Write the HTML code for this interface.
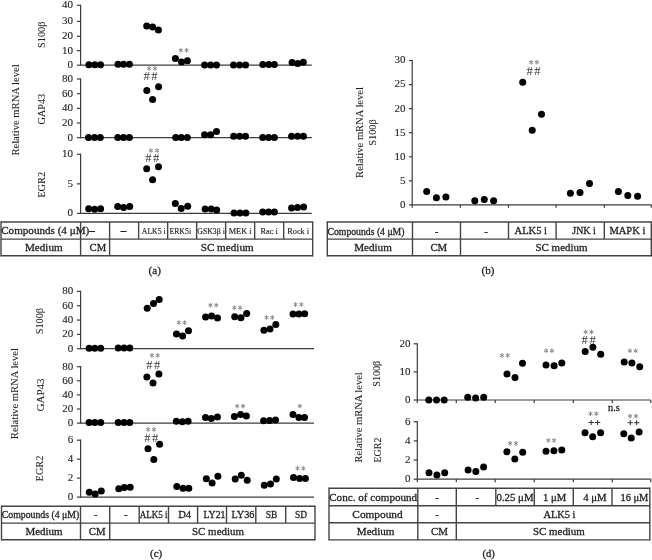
<!DOCTYPE html>
<html><head><meta charset="utf-8"><style>
html,body{margin:0;padding:0;background:#fff;width:652px;height:560px;overflow:hidden}
svg{display:block;font-family:"Liberation Serif", serif;filter:grayscale(1)}
text{stroke:#231f20;stroke-width:0.3px}
text.tk{stroke-width:0.12px}
text.rt{stroke-width:0.08px}
text.sm{stroke-width:0.15px}
text.hs{stroke-width:0px}
</style></head><body>
<svg width="652" height="560" viewBox="0 0 652 560" fill="#000">
<text class="rt" transform="translate(19.40,110.00) rotate(-90)" font-size="10.5" text-anchor="middle" fill="#231f20" textLength="91.20" lengthAdjust="spacingAndGlyphs">Relative mRNA level</text>
<text class="rt" transform="translate(44.80,34.75) rotate(-90)" font-size="10.5" text-anchor="middle" fill="#231f20" textLength="26.30" lengthAdjust="spacingAndGlyphs">S100β</text>
<text class="rt" transform="translate(45.30,109.10) rotate(-90)" font-size="10.5" text-anchor="middle" fill="#231f20" textLength="30.60" lengthAdjust="spacingAndGlyphs">GAP43</text>
<text class="rt" transform="translate(44.90,184.75) rotate(-90)" font-size="10.5" text-anchor="middle" fill="#231f20" textLength="26.10" lengthAdjust="spacingAndGlyphs">EGR2</text>
<line x1="80.60" y1="4.70" x2="80.60" y2="65.80" stroke="#3c3c3c" stroke-width="1.2"/>
<line x1="76.90" y1="65.20" x2="80.60" y2="65.20" stroke="#3c3c3c" stroke-width="1.2"/>
<text x="72.90" y="68.10" font-size="11" text-anchor="end" fill="#231f20" class="tk">0</text>
<line x1="76.90" y1="50.70" x2="80.60" y2="50.70" stroke="#3c3c3c" stroke-width="1.2"/>
<text x="72.90" y="53.60" font-size="11" text-anchor="end" fill="#231f20" class="tk">10</text>
<line x1="76.90" y1="36.30" x2="80.60" y2="36.30" stroke="#3c3c3c" stroke-width="1.2"/>
<text x="72.90" y="39.20" font-size="11" text-anchor="end" fill="#231f20" class="tk">20</text>
<line x1="76.90" y1="21.40" x2="80.60" y2="21.40" stroke="#3c3c3c" stroke-width="1.2"/>
<text x="72.90" y="24.30" font-size="11" text-anchor="end" fill="#231f20" class="tk">30</text>
<line x1="76.90" y1="5.30" x2="80.60" y2="5.30" stroke="#3c3c3c" stroke-width="1.2"/>
<text x="72.90" y="8.20" font-size="11" text-anchor="end" fill="#231f20" class="tk">40</text>
<line x1="80.60" y1="65.20" x2="311.80" y2="65.20" stroke="#3c3c3c" stroke-width="1.2"/>
<line x1="80.60" y1="78.40" x2="80.60" y2="138.30" stroke="#3c3c3c" stroke-width="1.2"/>
<line x1="76.90" y1="137.70" x2="80.60" y2="137.70" stroke="#3c3c3c" stroke-width="1.2"/>
<text x="72.90" y="140.60" font-size="11" text-anchor="end" fill="#231f20" class="tk">0</text>
<line x1="76.90" y1="123.02" x2="80.60" y2="123.02" stroke="#3c3c3c" stroke-width="1.2"/>
<text x="72.90" y="125.92" font-size="11" text-anchor="end" fill="#231f20" class="tk">20</text>
<line x1="76.90" y1="108.35" x2="80.60" y2="108.35" stroke="#3c3c3c" stroke-width="1.2"/>
<text x="72.90" y="111.25" font-size="11" text-anchor="end" fill="#231f20" class="tk">40</text>
<line x1="76.90" y1="93.67" x2="80.60" y2="93.67" stroke="#3c3c3c" stroke-width="1.2"/>
<text x="72.90" y="96.58" font-size="11" text-anchor="end" fill="#231f20" class="tk">60</text>
<line x1="76.90" y1="79.00" x2="80.60" y2="79.00" stroke="#3c3c3c" stroke-width="1.2"/>
<text x="72.90" y="81.90" font-size="11" text-anchor="end" fill="#231f20" class="tk">80</text>
<line x1="80.60" y1="137.70" x2="311.80" y2="137.70" stroke="#3c3c3c" stroke-width="1.2"/>
<line x1="80.60" y1="153.70" x2="80.60" y2="214.00" stroke="#3c3c3c" stroke-width="1.2"/>
<line x1="76.90" y1="213.40" x2="80.60" y2="213.40" stroke="#3c3c3c" stroke-width="1.2"/>
<text x="72.90" y="216.30" font-size="11" text-anchor="end" fill="#231f20" class="tk">0</text>
<line x1="76.90" y1="183.85" x2="80.60" y2="183.85" stroke="#3c3c3c" stroke-width="1.2"/>
<text x="72.90" y="186.75" font-size="11" text-anchor="end" fill="#231f20" class="tk">5</text>
<line x1="76.90" y1="154.30" x2="80.60" y2="154.30" stroke="#3c3c3c" stroke-width="1.2"/>
<text x="72.90" y="157.20" font-size="11" text-anchor="end" fill="#231f20" class="tk">10</text>
<line x1="80.60" y1="213.40" x2="311.80" y2="213.40" stroke="#3c3c3c" stroke-width="1.2"/>
<circle cx="88.90" cy="64.80" r="3.5"/>
<circle cx="94.80" cy="64.80" r="3.5"/>
<circle cx="100.50" cy="64.80" r="3.5"/>
<circle cx="118.00" cy="64.30" r="3.5"/>
<circle cx="123.50" cy="64.30" r="3.5"/>
<circle cx="129.40" cy="64.30" r="3.5"/>
<circle cx="146.70" cy="26.05" r="3.5"/>
<circle cx="152.65" cy="27.00" r="3.5"/>
<circle cx="158.40" cy="30.00" r="3.5"/>
<circle cx="175.40" cy="58.50" r="3.5"/>
<circle cx="181.50" cy="62.00" r="3.5"/>
<circle cx="187.40" cy="60.70" r="3.5"/>
<circle cx="204.60" cy="65.00" r="3.5"/>
<circle cx="210.60" cy="65.00" r="3.5"/>
<circle cx="216.50" cy="65.00" r="3.5"/>
<circle cx="233.50" cy="65.00" r="3.5"/>
<circle cx="239.60" cy="65.00" r="3.5"/>
<circle cx="245.60" cy="65.00" r="3.5"/>
<circle cx="262.80" cy="64.40" r="3.5"/>
<circle cx="268.80" cy="64.40" r="3.5"/>
<circle cx="274.40" cy="64.40" r="3.5"/>
<circle cx="292.10" cy="62.40" r="3.5"/>
<circle cx="297.70" cy="63.40" r="3.5"/>
<circle cx="303.30" cy="62.20" r="3.5"/>
<circle cx="88.50" cy="137.50" r="3.5"/>
<circle cx="94.50" cy="137.50" r="3.5"/>
<circle cx="100.30" cy="137.50" r="3.5"/>
<circle cx="117.80" cy="137.50" r="3.5"/>
<circle cx="123.60" cy="137.50" r="3.5"/>
<circle cx="129.40" cy="137.50" r="3.5"/>
<circle cx="146.80" cy="90.40" r="3.5"/>
<circle cx="152.60" cy="99.60" r="3.5"/>
<circle cx="158.60" cy="86.70" r="3.5"/>
<circle cx="175.70" cy="137.50" r="3.5"/>
<circle cx="181.30" cy="137.50" r="3.5"/>
<circle cx="187.30" cy="137.50" r="3.5"/>
<circle cx="204.60" cy="134.70" r="3.5"/>
<circle cx="210.60" cy="134.70" r="3.5"/>
<circle cx="216.50" cy="131.40" r="3.5"/>
<circle cx="233.70" cy="136.20" r="3.5"/>
<circle cx="239.60" cy="136.20" r="3.5"/>
<circle cx="245.50" cy="136.20" r="3.5"/>
<circle cx="262.70" cy="137.50" r="3.5"/>
<circle cx="268.60" cy="137.50" r="3.5"/>
<circle cx="274.40" cy="137.50" r="3.5"/>
<circle cx="291.60" cy="136.20" r="3.5"/>
<circle cx="297.60" cy="136.20" r="3.5"/>
<circle cx="303.40" cy="136.20" r="3.5"/>
<circle cx="88.70" cy="208.80" r="3.5"/>
<circle cx="94.70" cy="209.30" r="3.5"/>
<circle cx="100.60" cy="208.80" r="3.5"/>
<circle cx="117.70" cy="206.60" r="3.5"/>
<circle cx="123.60" cy="207.50" r="3.5"/>
<circle cx="129.70" cy="206.60" r="3.5"/>
<circle cx="146.70" cy="168.70" r="3.5"/>
<circle cx="152.60" cy="179.70" r="3.5"/>
<circle cx="158.50" cy="166.80" r="3.5"/>
<circle cx="175.30" cy="203.40" r="3.5"/>
<circle cx="181.20" cy="208.40" r="3.5"/>
<circle cx="187.70" cy="206.20" r="3.5"/>
<circle cx="205.10" cy="209.00" r="3.5"/>
<circle cx="211.20" cy="209.00" r="3.5"/>
<circle cx="216.70" cy="209.90" r="3.5"/>
<circle cx="234.00" cy="213.00" r="3.5"/>
<circle cx="240.00" cy="213.00" r="3.5"/>
<circle cx="245.90" cy="213.00" r="3.5"/>
<circle cx="262.70" cy="212.10" r="3.5"/>
<circle cx="268.60" cy="212.10" r="3.5"/>
<circle cx="274.40" cy="212.10" r="3.5"/>
<circle cx="291.60" cy="208.00" r="3.5"/>
<circle cx="297.50" cy="207.50" r="3.5"/>
<circle cx="303.60" cy="206.90" r="3.5"/>
<line x1="180.80" y1="48.00" x2="180.80" y2="52.60" stroke="#8a8a8a" stroke-width="1.0"/>
<line x1="178.81" y1="49.15" x2="182.79" y2="51.45" stroke="#8a8a8a" stroke-width="1.0"/>
<line x1="178.81" y1="51.45" x2="182.79" y2="49.15" stroke="#8a8a8a" stroke-width="1.0"/>
<line x1="186.60" y1="48.00" x2="186.60" y2="52.60" stroke="#8a8a8a" stroke-width="1.0"/>
<line x1="184.61" y1="49.15" x2="188.59" y2="51.45" stroke="#8a8a8a" stroke-width="1.0"/>
<line x1="184.61" y1="51.45" x2="188.59" y2="49.15" stroke="#8a8a8a" stroke-width="1.0"/>
<line x1="149.10" y1="66.20" x2="149.10" y2="70.80" stroke="#8a8a8a" stroke-width="1.0"/>
<line x1="147.11" y1="67.35" x2="151.09" y2="69.65" stroke="#8a8a8a" stroke-width="1.0"/>
<line x1="147.11" y1="69.65" x2="151.09" y2="67.35" stroke="#8a8a8a" stroke-width="1.0"/>
<line x1="155.10" y1="66.20" x2="155.10" y2="70.80" stroke="#8a8a8a" stroke-width="1.0"/>
<line x1="153.11" y1="67.35" x2="157.09" y2="69.65" stroke="#8a8a8a" stroke-width="1.0"/>
<line x1="153.11" y1="69.65" x2="157.09" y2="67.35" stroke="#8a8a8a" stroke-width="1.0"/>
<text x="146.55" y="79.90" font-size="12.5" text-anchor="middle" fill="#333" class="hs">#</text>
<text x="154.45" y="79.90" font-size="12.5" text-anchor="middle" fill="#333" class="hs">#</text>
<line x1="150.90" y1="148.30" x2="150.90" y2="152.90" stroke="#8a8a8a" stroke-width="1.0"/>
<line x1="148.91" y1="149.45" x2="152.89" y2="151.75" stroke="#8a8a8a" stroke-width="1.0"/>
<line x1="148.91" y1="151.75" x2="152.89" y2="149.45" stroke="#8a8a8a" stroke-width="1.0"/>
<line x1="157.10" y1="148.30" x2="157.10" y2="152.90" stroke="#8a8a8a" stroke-width="1.0"/>
<line x1="155.11" y1="149.45" x2="159.09" y2="151.75" stroke="#8a8a8a" stroke-width="1.0"/>
<line x1="155.11" y1="151.75" x2="159.09" y2="149.45" stroke="#8a8a8a" stroke-width="1.0"/>
<text x="148.25" y="162.00" font-size="12.5" text-anchor="middle" fill="#333" class="hs">#</text>
<text x="156.15" y="162.00" font-size="12.5" text-anchor="middle" fill="#333" class="hs">#</text>
<line x1="1.00" y1="222.00" x2="312.68" y2="222.00" stroke="#444" stroke-width="1.4"/>
<line x1="1.00" y1="239.10" x2="312.68" y2="239.10" stroke="#444" stroke-width="1.4"/>
<line x1="1.00" y1="255.80" x2="312.68" y2="255.80" stroke="#444" stroke-width="1.4"/>
<line x1="1.00" y1="221.30" x2="1.00" y2="256.50" stroke="#444" stroke-width="1.4"/>
<line x1="312.68" y1="221.30" x2="312.68" y2="256.50" stroke="#444" stroke-width="1.4"/>
<line x1="80.60" y1="222.00" x2="80.60" y2="255.80" stroke="#444" stroke-width="1.4"/>
<line x1="109.61" y1="222.00" x2="109.61" y2="255.80" stroke="#444" stroke-width="1.4"/>
<line x1="138.62" y1="222.00" x2="138.62" y2="239.10" stroke="#444" stroke-width="1.4"/>
<line x1="167.63" y1="222.00" x2="167.63" y2="239.10" stroke="#444" stroke-width="1.4"/>
<line x1="196.64" y1="222.00" x2="196.64" y2="239.10" stroke="#444" stroke-width="1.4"/>
<line x1="225.65" y1="222.00" x2="225.65" y2="239.10" stroke="#444" stroke-width="1.4"/>
<line x1="254.66" y1="222.00" x2="254.66" y2="239.10" stroke="#444" stroke-width="1.4"/>
<line x1="283.67" y1="222.00" x2="283.67" y2="239.10" stroke="#444" stroke-width="1.4"/>
<text x="1.20" y="234.00" font-size="11" text-anchor="start" fill="#231f20" textLength="93.60" lengthAdjust="spacingAndGlyphs">Compounds (4 μM)–</text>
<text x="123.40" y="234.00" font-size="11" text-anchor="middle" fill="#231f20">–</text>
<text x="141.80" y="234.00" font-size="8.3" text-anchor="start" fill="#231f20" textLength="23.90" lengthAdjust="spacingAndGlyphs" class="sm">ALK5 i</text>
<text x="169.40" y="234.00" font-size="8.3" text-anchor="start" fill="#231f20" textLength="21.70" lengthAdjust="spacingAndGlyphs" class="sm">ERK5i</text>
<text x="197.30" y="234.00" font-size="8.3" text-anchor="start" fill="#231f20" textLength="27.50" lengthAdjust="spacingAndGlyphs" class="sm">GSK3β i</text>
<text x="240.16" y="234.00" font-size="8.3" text-anchor="middle" fill="#231f20" class="sm">MEK i</text>
<text x="269.17" y="234.00" font-size="8.3" text-anchor="middle" fill="#231f20" class="sm">Rac i</text>
<text x="298.18" y="234.00" font-size="8.3" text-anchor="middle" fill="#231f20" class="sm">Rock i</text>
<text x="43.80" y="250.60" font-size="11" text-anchor="middle" fill="#231f20" textLength="37.70" lengthAdjust="spacingAndGlyphs">Medium</text>
<text x="97.90" y="250.60" font-size="11" text-anchor="middle" fill="#231f20" textLength="16.60" lengthAdjust="spacingAndGlyphs">CM</text>
<text x="227.20" y="250.60" font-size="11" text-anchor="middle" fill="#231f20" textLength="53.00" lengthAdjust="spacingAndGlyphs">SC medium</text>
<text x="154.75" y="273.80" font-size="11" text-anchor="middle" fill="#231f20" textLength="12.30" lengthAdjust="spacingAndGlyphs">(a)</text>
<text class="rt" transform="translate(363.20,132.50) rotate(-90)" font-size="10.5" text-anchor="middle" fill="#231f20" textLength="90.80" lengthAdjust="spacingAndGlyphs">Relative mRNA level</text>
<text class="rt" transform="translate(375.70,132.50) rotate(-90)" font-size="10.5" text-anchor="middle" fill="#231f20" textLength="26.40" lengthAdjust="spacingAndGlyphs">S100β</text>
<line x1="412.20" y1="59.90" x2="412.20" y2="205.50" stroke="#3c3c3c" stroke-width="1.2"/>
<line x1="408.90" y1="204.90" x2="412.20" y2="204.90" stroke="#3c3c3c" stroke-width="1.2"/>
<text x="405.50" y="207.80" font-size="11" text-anchor="end" fill="#231f20" class="tk">0</text>
<line x1="408.90" y1="180.83" x2="412.20" y2="180.83" stroke="#3c3c3c" stroke-width="1.2"/>
<text x="405.50" y="183.73" font-size="11" text-anchor="end" fill="#231f20" class="tk">5</text>
<line x1="408.90" y1="156.77" x2="412.20" y2="156.77" stroke="#3c3c3c" stroke-width="1.2"/>
<text x="405.50" y="159.67" font-size="11" text-anchor="end" fill="#231f20" class="tk">10</text>
<line x1="408.90" y1="132.70" x2="412.20" y2="132.70" stroke="#3c3c3c" stroke-width="1.2"/>
<text x="405.50" y="135.60" font-size="11" text-anchor="end" fill="#231f20" class="tk">15</text>
<line x1="408.90" y1="108.63" x2="412.20" y2="108.63" stroke="#3c3c3c" stroke-width="1.2"/>
<text x="405.50" y="111.53" font-size="11" text-anchor="end" fill="#231f20" class="tk">20</text>
<line x1="408.90" y1="84.57" x2="412.20" y2="84.57" stroke="#3c3c3c" stroke-width="1.2"/>
<text x="405.50" y="87.47" font-size="11" text-anchor="end" fill="#231f20" class="tk">25</text>
<line x1="408.90" y1="60.50" x2="412.20" y2="60.50" stroke="#3c3c3c" stroke-width="1.2"/>
<text x="405.50" y="63.40" font-size="11" text-anchor="end" fill="#231f20" class="tk">30</text>
<line x1="412.20" y1="204.90" x2="651.60" y2="204.90" stroke="#3c3c3c" stroke-width="1.2"/>
<line x1="412.20" y1="204.90" x2="412.20" y2="207.80" stroke="#3c3c3c" stroke-width="1.2"/>
<line x1="460.30" y1="204.90" x2="460.30" y2="207.80" stroke="#3c3c3c" stroke-width="1.2"/>
<line x1="508.50" y1="204.90" x2="508.50" y2="207.80" stroke="#3c3c3c" stroke-width="1.2"/>
<line x1="556.10" y1="204.90" x2="556.10" y2="207.80" stroke="#3c3c3c" stroke-width="1.2"/>
<line x1="604.30" y1="204.90" x2="604.30" y2="207.80" stroke="#3c3c3c" stroke-width="1.2"/>
<line x1="651.30" y1="204.90" x2="651.30" y2="207.80" stroke="#3c3c3c" stroke-width="1.2"/>
<circle cx="426.70" cy="191.60" r="3.5"/>
<circle cx="436.40" cy="197.70" r="3.5"/>
<circle cx="445.90" cy="197.10" r="3.5"/>
<circle cx="474.80" cy="200.70" r="3.5"/>
<circle cx="484.30" cy="199.40" r="3.5"/>
<circle cx="493.60" cy="200.70" r="3.5"/>
<circle cx="522.70" cy="82.20" r="3.5"/>
<circle cx="532.20" cy="130.30" r="3.5"/>
<circle cx="541.50" cy="114.30" r="3.5"/>
<circle cx="570.40" cy="193.30" r="3.5"/>
<circle cx="580.00" cy="192.60" r="3.5"/>
<circle cx="589.50" cy="183.50" r="3.5"/>
<circle cx="618.40" cy="191.40" r="3.5"/>
<circle cx="627.80" cy="195.60" r="3.5"/>
<circle cx="637.60" cy="196.30" r="3.5"/>
<line x1="531.10" y1="60.00" x2="531.10" y2="64.60" stroke="#8a8a8a" stroke-width="1.0"/>
<line x1="529.11" y1="61.15" x2="533.09" y2="63.45" stroke="#8a8a8a" stroke-width="1.0"/>
<line x1="529.11" y1="63.45" x2="533.09" y2="61.15" stroke="#8a8a8a" stroke-width="1.0"/>
<line x1="536.90" y1="60.00" x2="536.90" y2="64.60" stroke="#8a8a8a" stroke-width="1.0"/>
<line x1="534.91" y1="61.15" x2="538.89" y2="63.45" stroke="#8a8a8a" stroke-width="1.0"/>
<line x1="534.91" y1="63.45" x2="538.89" y2="61.15" stroke="#8a8a8a" stroke-width="1.0"/>
<text x="529.55" y="74.90" font-size="12.5" text-anchor="middle" fill="#333" class="hs">#</text>
<text x="537.45" y="74.90" font-size="12.5" text-anchor="middle" fill="#333" class="hs">#</text>
<line x1="327.30" y1="222.00" x2="651.30" y2="222.00" stroke="#444" stroke-width="1.4"/>
<line x1="327.30" y1="239.10" x2="651.30" y2="239.10" stroke="#444" stroke-width="1.4"/>
<line x1="327.30" y1="255.80" x2="651.30" y2="255.80" stroke="#444" stroke-width="1.4"/>
<line x1="327.30" y1="221.30" x2="327.30" y2="256.50" stroke="#444" stroke-width="1.4"/>
<line x1="651.30" y1="221.30" x2="651.30" y2="256.50" stroke="#444" stroke-width="1.4"/>
<line x1="412.50" y1="222.00" x2="412.50" y2="255.80" stroke="#444" stroke-width="1.4"/>
<line x1="460.50" y1="222.00" x2="460.50" y2="255.80" stroke="#444" stroke-width="1.4"/>
<line x1="508.50" y1="222.00" x2="508.50" y2="239.10" stroke="#444" stroke-width="1.4"/>
<line x1="556.10" y1="222.00" x2="556.10" y2="239.10" stroke="#444" stroke-width="1.4"/>
<line x1="604.30" y1="222.00" x2="604.30" y2="239.10" stroke="#444" stroke-width="1.4"/>
<text x="327.50" y="234.70" font-size="10" text-anchor="start" fill="#231f20" textLength="77.00" lengthAdjust="spacingAndGlyphs">Compounds (4 μM)</text>
<text x="436.70" y="234.70" font-size="11" text-anchor="middle" fill="#231f20">-</text>
<text x="486.00" y="234.70" font-size="11" text-anchor="middle" fill="#231f20">-</text>
<text x="530.80" y="234.00" font-size="10.5" text-anchor="middle" fill="#231f20" textLength="32.40" lengthAdjust="spacingAndGlyphs">ALK5 i</text>
<text x="584.00" y="234.00" font-size="10.5" text-anchor="middle" fill="#231f20" textLength="23.30" lengthAdjust="spacingAndGlyphs">JNK i</text>
<text x="627.40" y="234.00" font-size="10.5" text-anchor="middle" fill="#231f20" textLength="36.00" lengthAdjust="spacingAndGlyphs">MAPK i</text>
<text x="373.00" y="250.70" font-size="11" text-anchor="middle" fill="#231f20" textLength="37.70" lengthAdjust="spacingAndGlyphs">Medium</text>
<text x="438.80" y="250.70" font-size="11" text-anchor="middle" fill="#231f20" textLength="16.80" lengthAdjust="spacingAndGlyphs">CM</text>
<text x="561.50" y="250.70" font-size="11" text-anchor="middle" fill="#231f20" textLength="52.00" lengthAdjust="spacingAndGlyphs">SC medium</text>
<text x="488.00" y="273.50" font-size="11" text-anchor="middle" fill="#231f20" textLength="12.80" lengthAdjust="spacingAndGlyphs">(b)</text>
<text class="rt" transform="translate(18.40,393.60) rotate(-90)" font-size="10.5" text-anchor="middle" fill="#231f20" textLength="91.10" lengthAdjust="spacingAndGlyphs">Relative mRNA level</text>
<text class="rt" transform="translate(43.40,321.10) rotate(-90)" font-size="10.5" text-anchor="middle" fill="#231f20" textLength="26.40" lengthAdjust="spacingAndGlyphs">S100β</text>
<text class="rt" transform="translate(43.80,395.00) rotate(-90)" font-size="10.5" text-anchor="middle" fill="#231f20" textLength="33.00" lengthAdjust="spacingAndGlyphs">GAP43</text>
<text class="rt" transform="translate(43.40,468.50) rotate(-90)" font-size="10.5" text-anchor="middle" fill="#231f20" textLength="25.90" lengthAdjust="spacingAndGlyphs">EGR2</text>
<line x1="80.60" y1="290.80" x2="80.60" y2="349.30" stroke="#3c3c3c" stroke-width="1.2"/>
<line x1="76.90" y1="348.70" x2="80.60" y2="348.70" stroke="#3c3c3c" stroke-width="1.2"/>
<text x="73.30" y="351.60" font-size="11" text-anchor="end" fill="#231f20" class="tk">0</text>
<line x1="76.90" y1="334.38" x2="80.60" y2="334.38" stroke="#3c3c3c" stroke-width="1.2"/>
<text x="73.30" y="337.27" font-size="11" text-anchor="end" fill="#231f20" class="tk">20</text>
<line x1="76.90" y1="320.05" x2="80.60" y2="320.05" stroke="#3c3c3c" stroke-width="1.2"/>
<text x="73.30" y="322.95" font-size="11" text-anchor="end" fill="#231f20" class="tk">40</text>
<line x1="76.90" y1="305.72" x2="80.60" y2="305.72" stroke="#3c3c3c" stroke-width="1.2"/>
<text x="73.30" y="308.62" font-size="11" text-anchor="end" fill="#231f20" class="tk">60</text>
<line x1="76.90" y1="291.40" x2="80.60" y2="291.40" stroke="#3c3c3c" stroke-width="1.2"/>
<text x="73.30" y="294.30" font-size="11" text-anchor="end" fill="#231f20" class="tk">80</text>
<line x1="80.60" y1="348.70" x2="314.00" y2="348.70" stroke="#3c3c3c" stroke-width="1.2"/>
<line x1="80.60" y1="366.10" x2="80.60" y2="423.70" stroke="#3c3c3c" stroke-width="1.2"/>
<line x1="76.90" y1="423.10" x2="80.60" y2="423.10" stroke="#3c3c3c" stroke-width="1.2"/>
<text x="73.30" y="426.00" font-size="11" text-anchor="end" fill="#231f20" class="tk">0</text>
<line x1="76.90" y1="409.00" x2="80.60" y2="409.00" stroke="#3c3c3c" stroke-width="1.2"/>
<text x="73.30" y="411.90" font-size="11" text-anchor="end" fill="#231f20" class="tk">20</text>
<line x1="76.90" y1="394.90" x2="80.60" y2="394.90" stroke="#3c3c3c" stroke-width="1.2"/>
<text x="73.30" y="397.80" font-size="11" text-anchor="end" fill="#231f20" class="tk">40</text>
<line x1="76.90" y1="380.80" x2="80.60" y2="380.80" stroke="#3c3c3c" stroke-width="1.2"/>
<text x="73.30" y="383.70" font-size="11" text-anchor="end" fill="#231f20" class="tk">60</text>
<line x1="76.90" y1="366.70" x2="80.60" y2="366.70" stroke="#3c3c3c" stroke-width="1.2"/>
<text x="73.30" y="369.60" font-size="11" text-anchor="end" fill="#231f20" class="tk">80</text>
<line x1="80.60" y1="423.10" x2="314.00" y2="423.10" stroke="#3c3c3c" stroke-width="1.2"/>
<line x1="80.60" y1="439.60" x2="80.60" y2="497.70" stroke="#3c3c3c" stroke-width="1.2"/>
<line x1="76.90" y1="497.10" x2="80.60" y2="497.10" stroke="#3c3c3c" stroke-width="1.2"/>
<text x="73.30" y="500.00" font-size="11" text-anchor="end" fill="#231f20" class="tk">0</text>
<line x1="76.90" y1="478.13" x2="80.60" y2="478.13" stroke="#3c3c3c" stroke-width="1.2"/>
<text x="73.30" y="481.03" font-size="11" text-anchor="end" fill="#231f20" class="tk">2</text>
<line x1="76.90" y1="459.17" x2="80.60" y2="459.17" stroke="#3c3c3c" stroke-width="1.2"/>
<text x="73.30" y="462.07" font-size="11" text-anchor="end" fill="#231f20" class="tk">4</text>
<line x1="76.90" y1="440.20" x2="80.60" y2="440.20" stroke="#3c3c3c" stroke-width="1.2"/>
<text x="73.30" y="443.10" font-size="11" text-anchor="end" fill="#231f20" class="tk">6</text>
<line x1="80.60" y1="497.10" x2="314.00" y2="497.10" stroke="#3c3c3c" stroke-width="1.2"/>
<circle cx="89.10" cy="348.30" r="3.5"/>
<circle cx="94.80" cy="348.30" r="3.5"/>
<circle cx="100.70" cy="348.30" r="3.5"/>
<circle cx="118.20" cy="348.00" r="3.5"/>
<circle cx="124.10" cy="348.00" r="3.5"/>
<circle cx="129.80" cy="348.00" r="3.5"/>
<circle cx="147.20" cy="308.30" r="3.5"/>
<circle cx="153.50" cy="303.40" r="3.5"/>
<circle cx="159.20" cy="299.60" r="3.5"/>
<circle cx="176.50" cy="334.10" r="3.5"/>
<circle cx="182.60" cy="336.10" r="3.5"/>
<circle cx="188.50" cy="330.70" r="3.5"/>
<circle cx="205.60" cy="316.90" r="3.5"/>
<circle cx="211.60" cy="316.10" r="3.5"/>
<circle cx="217.50" cy="318.00" r="3.5"/>
<circle cx="234.70" cy="316.70" r="3.5"/>
<circle cx="240.90" cy="317.70" r="3.5"/>
<circle cx="246.70" cy="313.40" r="3.5"/>
<circle cx="263.90" cy="330.20" r="3.5"/>
<circle cx="270.00" cy="329.00" r="3.5"/>
<circle cx="275.80" cy="324.60" r="3.5"/>
<circle cx="293.00" cy="314.10" r="3.5"/>
<circle cx="298.90" cy="314.10" r="3.5"/>
<circle cx="304.70" cy="313.80" r="3.5"/>
<circle cx="89.10" cy="422.50" r="3.5"/>
<circle cx="94.80" cy="422.50" r="3.5"/>
<circle cx="100.70" cy="422.50" r="3.5"/>
<circle cx="118.20" cy="422.50" r="3.5"/>
<circle cx="124.10" cy="422.50" r="3.5"/>
<circle cx="129.80" cy="422.50" r="3.5"/>
<circle cx="146.90" cy="376.90" r="3.5"/>
<circle cx="153.00" cy="383.00" r="3.5"/>
<circle cx="158.90" cy="374.10" r="3.5"/>
<circle cx="176.30" cy="421.20" r="3.5"/>
<circle cx="182.30" cy="421.80" r="3.5"/>
<circle cx="188.10" cy="421.20" r="3.5"/>
<circle cx="205.50" cy="417.40" r="3.5"/>
<circle cx="211.30" cy="418.50" r="3.5"/>
<circle cx="217.40" cy="417.10" r="3.5"/>
<circle cx="234.40" cy="416.40" r="3.5"/>
<circle cx="240.60" cy="414.50" r="3.5"/>
<circle cx="246.40" cy="416.10" r="3.5"/>
<circle cx="263.60" cy="420.70" r="3.5"/>
<circle cx="269.70" cy="420.50" r="3.5"/>
<circle cx="275.50" cy="419.90" r="3.5"/>
<circle cx="293.00" cy="414.50" r="3.5"/>
<circle cx="298.90" cy="417.60" r="3.5"/>
<circle cx="304.50" cy="417.60" r="3.5"/>
<circle cx="89.30" cy="492.20" r="3.5"/>
<circle cx="95.20" cy="494.00" r="3.5"/>
<circle cx="101.30" cy="490.90" r="3.5"/>
<circle cx="118.80" cy="488.70" r="3.5"/>
<circle cx="124.30" cy="487.50" r="3.5"/>
<circle cx="130.20" cy="487.20" r="3.5"/>
<circle cx="148.00" cy="448.80" r="3.5"/>
<circle cx="153.80" cy="459.60" r="3.5"/>
<circle cx="159.60" cy="444.20" r="3.5"/>
<circle cx="176.80" cy="486.40" r="3.5"/>
<circle cx="183.00" cy="488.30" r="3.5"/>
<circle cx="188.80" cy="488.30" r="3.5"/>
<circle cx="206.30" cy="478.70" r="3.5"/>
<circle cx="212.10" cy="482.90" r="3.5"/>
<circle cx="217.90" cy="476.30" r="3.5"/>
<circle cx="235.20" cy="479.10" r="3.5"/>
<circle cx="241.30" cy="475.30" r="3.5"/>
<circle cx="247.20" cy="480.20" r="3.5"/>
<circle cx="264.30" cy="485.30" r="3.5"/>
<circle cx="270.50" cy="484.00" r="3.5"/>
<circle cx="276.30" cy="479.10" r="3.5"/>
<circle cx="293.50" cy="477.60" r="3.5"/>
<circle cx="299.60" cy="478.40" r="3.5"/>
<circle cx="305.40" cy="478.40" r="3.5"/>
<line x1="178.80" y1="320.30" x2="178.80" y2="324.90" stroke="#8a8a8a" stroke-width="1.0"/>
<line x1="176.81" y1="321.45" x2="180.79" y2="323.75" stroke="#8a8a8a" stroke-width="1.0"/>
<line x1="176.81" y1="323.75" x2="180.79" y2="321.45" stroke="#8a8a8a" stroke-width="1.0"/>
<line x1="184.60" y1="320.30" x2="184.60" y2="324.90" stroke="#8a8a8a" stroke-width="1.0"/>
<line x1="182.61" y1="321.45" x2="186.59" y2="323.75" stroke="#8a8a8a" stroke-width="1.0"/>
<line x1="182.61" y1="323.75" x2="186.59" y2="321.45" stroke="#8a8a8a" stroke-width="1.0"/>
<line x1="210.40" y1="302.90" x2="210.40" y2="307.50" stroke="#8a8a8a" stroke-width="1.0"/>
<line x1="208.41" y1="304.05" x2="212.39" y2="306.35" stroke="#8a8a8a" stroke-width="1.0"/>
<line x1="208.41" y1="306.35" x2="212.39" y2="304.05" stroke="#8a8a8a" stroke-width="1.0"/>
<line x1="216.20" y1="302.90" x2="216.20" y2="307.50" stroke="#8a8a8a" stroke-width="1.0"/>
<line x1="214.21" y1="304.05" x2="218.19" y2="306.35" stroke="#8a8a8a" stroke-width="1.0"/>
<line x1="214.21" y1="306.35" x2="218.19" y2="304.05" stroke="#8a8a8a" stroke-width="1.0"/>
<line x1="234.30" y1="305.40" x2="234.30" y2="310.00" stroke="#8a8a8a" stroke-width="1.0"/>
<line x1="232.31" y1="306.55" x2="236.29" y2="308.85" stroke="#8a8a8a" stroke-width="1.0"/>
<line x1="232.31" y1="308.85" x2="236.29" y2="306.55" stroke="#8a8a8a" stroke-width="1.0"/>
<line x1="240.10" y1="305.40" x2="240.10" y2="310.00" stroke="#8a8a8a" stroke-width="1.0"/>
<line x1="238.11" y1="306.55" x2="242.09" y2="308.85" stroke="#8a8a8a" stroke-width="1.0"/>
<line x1="238.11" y1="308.85" x2="242.09" y2="306.55" stroke="#8a8a8a" stroke-width="1.0"/>
<line x1="266.50" y1="315.20" x2="266.50" y2="319.80" stroke="#8a8a8a" stroke-width="1.0"/>
<line x1="264.51" y1="316.35" x2="268.49" y2="318.65" stroke="#8a8a8a" stroke-width="1.0"/>
<line x1="264.51" y1="318.65" x2="268.49" y2="316.35" stroke="#8a8a8a" stroke-width="1.0"/>
<line x1="272.30" y1="315.20" x2="272.30" y2="319.80" stroke="#8a8a8a" stroke-width="1.0"/>
<line x1="270.31" y1="316.35" x2="274.29" y2="318.65" stroke="#8a8a8a" stroke-width="1.0"/>
<line x1="270.31" y1="318.65" x2="274.29" y2="316.35" stroke="#8a8a8a" stroke-width="1.0"/>
<line x1="295.50" y1="302.20" x2="295.50" y2="306.80" stroke="#8a8a8a" stroke-width="1.0"/>
<line x1="293.51" y1="303.35" x2="297.49" y2="305.65" stroke="#8a8a8a" stroke-width="1.0"/>
<line x1="293.51" y1="305.65" x2="297.49" y2="303.35" stroke="#8a8a8a" stroke-width="1.0"/>
<line x1="301.30" y1="302.20" x2="301.30" y2="306.80" stroke="#8a8a8a" stroke-width="1.0"/>
<line x1="299.31" y1="303.35" x2="303.29" y2="305.65" stroke="#8a8a8a" stroke-width="1.0"/>
<line x1="299.31" y1="305.65" x2="303.29" y2="303.35" stroke="#8a8a8a" stroke-width="1.0"/>
<line x1="151.90" y1="353.10" x2="151.90" y2="357.70" stroke="#8a8a8a" stroke-width="1.0"/>
<line x1="149.91" y1="354.25" x2="153.89" y2="356.55" stroke="#8a8a8a" stroke-width="1.0"/>
<line x1="149.91" y1="356.55" x2="153.89" y2="354.25" stroke="#8a8a8a" stroke-width="1.0"/>
<line x1="157.70" y1="353.10" x2="157.70" y2="357.70" stroke="#8a8a8a" stroke-width="1.0"/>
<line x1="155.71" y1="354.25" x2="159.69" y2="356.55" stroke="#8a8a8a" stroke-width="1.0"/>
<line x1="155.71" y1="356.55" x2="159.69" y2="354.25" stroke="#8a8a8a" stroke-width="1.0"/>
<text x="149.25" y="368.70" font-size="12.5" text-anchor="middle" fill="#333" class="hs">#</text>
<text x="157.15" y="368.70" font-size="12.5" text-anchor="middle" fill="#333" class="hs">#</text>
<line x1="237.20" y1="403.80" x2="237.20" y2="408.40" stroke="#8a8a8a" stroke-width="1.0"/>
<line x1="235.21" y1="404.95" x2="239.19" y2="407.25" stroke="#8a8a8a" stroke-width="1.0"/>
<line x1="235.21" y1="407.25" x2="239.19" y2="404.95" stroke="#8a8a8a" stroke-width="1.0"/>
<line x1="243.00" y1="403.80" x2="243.00" y2="408.40" stroke="#8a8a8a" stroke-width="1.0"/>
<line x1="241.01" y1="404.95" x2="244.99" y2="407.25" stroke="#8a8a8a" stroke-width="1.0"/>
<line x1="241.01" y1="407.25" x2="244.99" y2="404.95" stroke="#8a8a8a" stroke-width="1.0"/>
<line x1="299.90" y1="403.80" x2="299.90" y2="408.40" stroke="#8a8a8a" stroke-width="1.0"/>
<line x1="297.91" y1="404.95" x2="301.89" y2="407.25" stroke="#8a8a8a" stroke-width="1.0"/>
<line x1="297.91" y1="407.25" x2="301.89" y2="404.95" stroke="#8a8a8a" stroke-width="1.0"/>
<line x1="148.20" y1="427.20" x2="148.20" y2="431.80" stroke="#8a8a8a" stroke-width="1.0"/>
<line x1="146.21" y1="428.35" x2="150.19" y2="430.65" stroke="#8a8a8a" stroke-width="1.0"/>
<line x1="146.21" y1="430.65" x2="150.19" y2="428.35" stroke="#8a8a8a" stroke-width="1.0"/>
<line x1="154.00" y1="427.20" x2="154.00" y2="431.80" stroke="#8a8a8a" stroke-width="1.0"/>
<line x1="152.01" y1="428.35" x2="155.99" y2="430.65" stroke="#8a8a8a" stroke-width="1.0"/>
<line x1="152.01" y1="430.65" x2="155.99" y2="428.35" stroke="#8a8a8a" stroke-width="1.0"/>
<text x="147.25" y="441.90" font-size="12.5" text-anchor="middle" fill="#333" class="hs">#</text>
<text x="155.15" y="441.90" font-size="12.5" text-anchor="middle" fill="#333" class="hs">#</text>
<line x1="297.50" y1="466.10" x2="297.50" y2="470.70" stroke="#8a8a8a" stroke-width="1.0"/>
<line x1="295.51" y1="467.25" x2="299.49" y2="469.55" stroke="#8a8a8a" stroke-width="1.0"/>
<line x1="295.51" y1="469.55" x2="299.49" y2="467.25" stroke="#8a8a8a" stroke-width="1.0"/>
<line x1="303.30" y1="466.10" x2="303.30" y2="470.70" stroke="#8a8a8a" stroke-width="1.0"/>
<line x1="301.31" y1="467.25" x2="305.29" y2="469.55" stroke="#8a8a8a" stroke-width="1.0"/>
<line x1="301.31" y1="469.55" x2="305.29" y2="467.25" stroke="#8a8a8a" stroke-width="1.0"/>
<line x1="1.50" y1="506.20" x2="315.00" y2="506.20" stroke="#444" stroke-width="1.4"/>
<line x1="1.50" y1="523.10" x2="315.00" y2="523.10" stroke="#444" stroke-width="1.4"/>
<line x1="1.50" y1="539.70" x2="315.00" y2="539.70" stroke="#444" stroke-width="1.4"/>
<line x1="1.50" y1="505.50" x2="1.50" y2="540.40" stroke="#444" stroke-width="1.4"/>
<line x1="315.00" y1="505.50" x2="315.00" y2="540.40" stroke="#444" stroke-width="1.4"/>
<line x1="80.50" y1="506.20" x2="80.50" y2="539.70" stroke="#444" stroke-width="1.4"/>
<line x1="109.70" y1="506.20" x2="109.70" y2="539.70" stroke="#444" stroke-width="1.4"/>
<line x1="139.20" y1="506.20" x2="139.20" y2="523.10" stroke="#444" stroke-width="1.4"/>
<line x1="168.50" y1="506.20" x2="168.50" y2="523.10" stroke="#444" stroke-width="1.4"/>
<line x1="197.60" y1="506.20" x2="197.60" y2="523.10" stroke="#444" stroke-width="1.4"/>
<line x1="226.50" y1="506.20" x2="226.50" y2="523.10" stroke="#444" stroke-width="1.4"/>
<line x1="255.80" y1="506.20" x2="255.80" y2="523.10" stroke="#444" stroke-width="1.4"/>
<line x1="285.70" y1="506.20" x2="285.70" y2="523.10" stroke="#444" stroke-width="1.4"/>
<text x="1.80" y="518.00" font-size="10" text-anchor="start" fill="#231f20" textLength="77.50" lengthAdjust="spacingAndGlyphs">Compounds (4 μM)</text>
<text x="95.70" y="518.00" font-size="11" text-anchor="middle" fill="#231f20">-</text>
<text x="125.80" y="518.00" font-size="11" text-anchor="middle" fill="#231f20">-</text>
<text x="139.80" y="517.50" font-size="10" text-anchor="start" fill="#231f20" textLength="27.80" lengthAdjust="spacingAndGlyphs">ALK5 i</text>
<text x="184.60" y="517.50" font-size="10.5" text-anchor="middle" fill="#231f20" textLength="12.90" lengthAdjust="spacingAndGlyphs">D4</text>
<text x="203.60" y="517.50" font-size="10.5" text-anchor="start" fill="#231f20" textLength="21.90" lengthAdjust="spacingAndGlyphs">LY21</text>
<text x="231.50" y="517.50" font-size="10.5" text-anchor="start" fill="#231f20" textLength="22.90" lengthAdjust="spacingAndGlyphs">LY36</text>
<text x="271.60" y="517.50" font-size="10.5" text-anchor="middle" fill="#231f20" textLength="11.60" lengthAdjust="spacingAndGlyphs">SB</text>
<text x="301.10" y="517.50" font-size="10.5" text-anchor="middle" fill="#231f20" textLength="12.00" lengthAdjust="spacingAndGlyphs">SD</text>
<text x="44.00" y="535.10" font-size="11" text-anchor="middle" fill="#231f20" textLength="37.20" lengthAdjust="spacingAndGlyphs">Medium</text>
<text x="97.10" y="535.10" font-size="11" text-anchor="middle" fill="#231f20" textLength="16.80" lengthAdjust="spacingAndGlyphs">CM</text>
<text x="218.00" y="535.30" font-size="11" text-anchor="middle" fill="#231f20" textLength="52.00" lengthAdjust="spacingAndGlyphs">SC medium</text>
<text x="156.10" y="557.00" font-size="11" text-anchor="middle" fill="#231f20" textLength="12.20" lengthAdjust="spacingAndGlyphs">(c)</text>
<text class="rt" transform="translate(361.60,417.45) rotate(-90)" font-size="10.5" text-anchor="middle" fill="#231f20" textLength="90.30" lengthAdjust="spacingAndGlyphs">Relative mRNA level</text>
<text class="rt" transform="translate(380.40,373.70) rotate(-90)" font-size="10.5" text-anchor="middle" fill="#231f20" textLength="25.90" lengthAdjust="spacingAndGlyphs">S100β</text>
<text class="rt" transform="translate(380.80,450.10) rotate(-90)" font-size="10.5" text-anchor="middle" fill="#231f20" textLength="25.00" lengthAdjust="spacingAndGlyphs">EGR2</text>
<line x1="417.30" y1="343.20" x2="417.30" y2="400.60" stroke="#3c3c3c" stroke-width="1.2"/>
<line x1="413.60" y1="400.00" x2="417.30" y2="400.00" stroke="#3c3c3c" stroke-width="1.2"/>
<text x="410.40" y="402.90" font-size="11" text-anchor="end" fill="#231f20" class="tk">0</text>
<line x1="413.60" y1="371.90" x2="417.30" y2="371.90" stroke="#3c3c3c" stroke-width="1.2"/>
<text x="410.40" y="374.80" font-size="11" text-anchor="end" fill="#231f20" class="tk">10</text>
<line x1="413.60" y1="343.80" x2="417.30" y2="343.80" stroke="#3c3c3c" stroke-width="1.2"/>
<text x="410.40" y="346.70" font-size="11" text-anchor="end" fill="#231f20" class="tk">20</text>
<line x1="417.30" y1="400.00" x2="650.80" y2="400.00" stroke="#3c3c3c" stroke-width="1.2"/>
<line x1="417.30" y1="421.10" x2="417.30" y2="479.80" stroke="#3c3c3c" stroke-width="1.2"/>
<line x1="413.60" y1="479.20" x2="417.30" y2="479.20" stroke="#3c3c3c" stroke-width="1.2"/>
<text x="410.40" y="482.10" font-size="11" text-anchor="end" fill="#231f20" class="tk">0</text>
<line x1="413.60" y1="460.03" x2="417.30" y2="460.03" stroke="#3c3c3c" stroke-width="1.2"/>
<text x="410.40" y="462.93" font-size="11" text-anchor="end" fill="#231f20" class="tk">2</text>
<line x1="413.60" y1="440.87" x2="417.30" y2="440.87" stroke="#3c3c3c" stroke-width="1.2"/>
<text x="410.40" y="443.77" font-size="11" text-anchor="end" fill="#231f20" class="tk">4</text>
<line x1="413.60" y1="421.70" x2="417.30" y2="421.70" stroke="#3c3c3c" stroke-width="1.2"/>
<text x="410.40" y="424.60" font-size="11" text-anchor="end" fill="#231f20" class="tk">6</text>
<line x1="417.30" y1="479.20" x2="650.80" y2="479.20" stroke="#3c3c3c" stroke-width="1.2"/>
<line x1="417.30" y1="400.00" x2="417.30" y2="403.00" stroke="#3c3c3c" stroke-width="1.2"/>
<line x1="456.30" y1="400.00" x2="456.30" y2="403.00" stroke="#3c3c3c" stroke-width="1.2"/>
<line x1="495.20" y1="400.00" x2="495.20" y2="403.00" stroke="#3c3c3c" stroke-width="1.2"/>
<line x1="534.20" y1="400.00" x2="534.20" y2="403.00" stroke="#3c3c3c" stroke-width="1.2"/>
<line x1="573.30" y1="400.00" x2="573.30" y2="403.00" stroke="#3c3c3c" stroke-width="1.2"/>
<line x1="612.30" y1="400.00" x2="612.30" y2="403.00" stroke="#3c3c3c" stroke-width="1.2"/>
<line x1="650.80" y1="400.00" x2="650.80" y2="403.00" stroke="#3c3c3c" stroke-width="1.2"/>
<line x1="417.30" y1="479.20" x2="417.30" y2="482.20" stroke="#3c3c3c" stroke-width="1.2"/>
<line x1="456.30" y1="479.20" x2="456.30" y2="482.20" stroke="#3c3c3c" stroke-width="1.2"/>
<line x1="495.20" y1="479.20" x2="495.20" y2="482.20" stroke="#3c3c3c" stroke-width="1.2"/>
<line x1="534.20" y1="479.20" x2="534.20" y2="482.20" stroke="#3c3c3c" stroke-width="1.2"/>
<line x1="573.30" y1="479.20" x2="573.30" y2="482.20" stroke="#3c3c3c" stroke-width="1.2"/>
<line x1="612.30" y1="479.20" x2="612.30" y2="482.20" stroke="#3c3c3c" stroke-width="1.2"/>
<line x1="650.80" y1="479.20" x2="650.80" y2="482.20" stroke="#3c3c3c" stroke-width="1.2"/>
<circle cx="428.80" cy="399.90" r="3.5"/>
<circle cx="436.50" cy="399.90" r="3.5"/>
<circle cx="444.20" cy="399.90" r="3.5"/>
<circle cx="467.70" cy="397.20" r="3.5"/>
<circle cx="475.60" cy="398.10" r="3.5"/>
<circle cx="483.70" cy="397.20" r="3.5"/>
<circle cx="507.00" cy="373.90" r="3.5"/>
<circle cx="515.00" cy="377.60" r="3.5"/>
<circle cx="522.50" cy="363.30" r="3.5"/>
<circle cx="546.00" cy="365.00" r="3.5"/>
<circle cx="554.10" cy="365.70" r="3.5"/>
<circle cx="561.80" cy="363.10" r="3.5"/>
<circle cx="585.20" cy="351.60" r="3.5"/>
<circle cx="592.90" cy="347.30" r="3.5"/>
<circle cx="600.70" cy="354.20" r="3.5"/>
<circle cx="624.20" cy="361.90" r="3.5"/>
<circle cx="631.90" cy="363.10" r="3.5"/>
<circle cx="639.70" cy="366.80" r="3.5"/>
<circle cx="429.00" cy="472.70" r="3.5"/>
<circle cx="436.90" cy="474.90" r="3.5"/>
<circle cx="444.70" cy="472.70" r="3.5"/>
<circle cx="468.10" cy="470.00" r="3.5"/>
<circle cx="475.80" cy="471.60" r="3.5"/>
<circle cx="483.60" cy="466.90" r="3.5"/>
<circle cx="506.90" cy="451.70" r="3.5"/>
<circle cx="514.80" cy="459.10" r="3.5"/>
<circle cx="522.70" cy="452.30" r="3.5"/>
<circle cx="546.00" cy="451.20" r="3.5"/>
<circle cx="553.90" cy="450.70" r="3.5"/>
<circle cx="561.80" cy="449.90" r="3.5"/>
<circle cx="585.00" cy="432.70" r="3.5"/>
<circle cx="592.70" cy="436.70" r="3.5"/>
<circle cx="600.60" cy="432.70" r="3.5"/>
<circle cx="623.80" cy="433.80" r="3.5"/>
<circle cx="631.20" cy="438.00" r="3.5"/>
<circle cx="639.10" cy="431.90" r="3.5"/>
<line x1="501.90" y1="353.10" x2="501.90" y2="357.70" stroke="#8a8a8a" stroke-width="1.0"/>
<line x1="499.91" y1="354.25" x2="503.89" y2="356.55" stroke="#8a8a8a" stroke-width="1.0"/>
<line x1="499.91" y1="356.55" x2="503.89" y2="354.25" stroke="#8a8a8a" stroke-width="1.0"/>
<line x1="507.70" y1="353.10" x2="507.70" y2="357.70" stroke="#8a8a8a" stroke-width="1.0"/>
<line x1="505.71" y1="354.25" x2="509.69" y2="356.55" stroke="#8a8a8a" stroke-width="1.0"/>
<line x1="505.71" y1="356.55" x2="509.69" y2="354.25" stroke="#8a8a8a" stroke-width="1.0"/>
<line x1="546.10" y1="348.40" x2="546.10" y2="353.00" stroke="#8a8a8a" stroke-width="1.0"/>
<line x1="544.11" y1="349.55" x2="548.09" y2="351.85" stroke="#8a8a8a" stroke-width="1.0"/>
<line x1="544.11" y1="351.85" x2="548.09" y2="349.55" stroke="#8a8a8a" stroke-width="1.0"/>
<line x1="551.90" y1="348.40" x2="551.90" y2="353.00" stroke="#8a8a8a" stroke-width="1.0"/>
<line x1="549.91" y1="349.55" x2="553.89" y2="351.85" stroke="#8a8a8a" stroke-width="1.0"/>
<line x1="549.91" y1="351.85" x2="553.89" y2="349.55" stroke="#8a8a8a" stroke-width="1.0"/>
<line x1="585.70" y1="329.60" x2="585.70" y2="334.20" stroke="#8a8a8a" stroke-width="1.0"/>
<line x1="583.71" y1="330.75" x2="587.69" y2="333.05" stroke="#8a8a8a" stroke-width="1.0"/>
<line x1="583.71" y1="333.05" x2="587.69" y2="330.75" stroke="#8a8a8a" stroke-width="1.0"/>
<line x1="591.50" y1="329.60" x2="591.50" y2="334.20" stroke="#8a8a8a" stroke-width="1.0"/>
<line x1="589.51" y1="330.75" x2="593.49" y2="333.05" stroke="#8a8a8a" stroke-width="1.0"/>
<line x1="589.51" y1="333.05" x2="593.49" y2="330.75" stroke="#8a8a8a" stroke-width="1.0"/>
<text x="584.65" y="343.70" font-size="12.5" text-anchor="middle" fill="#333" class="hs">#</text>
<text x="592.55" y="343.70" font-size="12.5" text-anchor="middle" fill="#333" class="hs">#</text>
<line x1="629.90" y1="348.50" x2="629.90" y2="353.10" stroke="#8a8a8a" stroke-width="1.0"/>
<line x1="627.91" y1="349.65" x2="631.89" y2="351.95" stroke="#8a8a8a" stroke-width="1.0"/>
<line x1="627.91" y1="351.95" x2="631.89" y2="349.65" stroke="#8a8a8a" stroke-width="1.0"/>
<line x1="635.70" y1="348.50" x2="635.70" y2="353.10" stroke="#8a8a8a" stroke-width="1.0"/>
<line x1="633.71" y1="349.65" x2="637.69" y2="351.95" stroke="#8a8a8a" stroke-width="1.0"/>
<line x1="633.71" y1="351.95" x2="637.69" y2="349.65" stroke="#8a8a8a" stroke-width="1.0"/>
<line x1="510.10" y1="441.00" x2="510.10" y2="445.60" stroke="#8a8a8a" stroke-width="1.0"/>
<line x1="508.11" y1="442.15" x2="512.09" y2="444.45" stroke="#8a8a8a" stroke-width="1.0"/>
<line x1="508.11" y1="444.45" x2="512.09" y2="442.15" stroke="#8a8a8a" stroke-width="1.0"/>
<line x1="515.90" y1="441.00" x2="515.90" y2="445.60" stroke="#8a8a8a" stroke-width="1.0"/>
<line x1="513.91" y1="442.15" x2="517.89" y2="444.45" stroke="#8a8a8a" stroke-width="1.0"/>
<line x1="513.91" y1="444.45" x2="517.89" y2="442.15" stroke="#8a8a8a" stroke-width="1.0"/>
<line x1="548.30" y1="438.10" x2="548.30" y2="442.70" stroke="#8a8a8a" stroke-width="1.0"/>
<line x1="546.31" y1="439.25" x2="550.29" y2="441.55" stroke="#8a8a8a" stroke-width="1.0"/>
<line x1="546.31" y1="441.55" x2="550.29" y2="439.25" stroke="#8a8a8a" stroke-width="1.0"/>
<line x1="554.10" y1="438.10" x2="554.10" y2="442.70" stroke="#8a8a8a" stroke-width="1.0"/>
<line x1="552.11" y1="439.25" x2="556.09" y2="441.55" stroke="#8a8a8a" stroke-width="1.0"/>
<line x1="552.11" y1="441.55" x2="556.09" y2="439.25" stroke="#8a8a8a" stroke-width="1.0"/>
<line x1="590.50" y1="411.40" x2="590.50" y2="416.00" stroke="#8a8a8a" stroke-width="1.0"/>
<line x1="588.51" y1="412.55" x2="592.49" y2="414.85" stroke="#8a8a8a" stroke-width="1.0"/>
<line x1="588.51" y1="414.85" x2="592.49" y2="412.55" stroke="#8a8a8a" stroke-width="1.0"/>
<line x1="596.30" y1="411.40" x2="596.30" y2="416.00" stroke="#8a8a8a" stroke-width="1.0"/>
<line x1="594.31" y1="412.55" x2="598.29" y2="414.85" stroke="#8a8a8a" stroke-width="1.0"/>
<line x1="594.31" y1="414.85" x2="598.29" y2="412.55" stroke="#8a8a8a" stroke-width="1.0"/>
<line x1="588.50" y1="422.50" x2="593.90" y2="422.50" stroke="#333" stroke-width="1.0"/>
<line x1="591.20" y1="420.00" x2="591.20" y2="425.00" stroke="#333" stroke-width="1.0"/>
<line x1="594.90" y1="422.50" x2="600.30" y2="422.50" stroke="#333" stroke-width="1.0"/>
<line x1="597.60" y1="420.00" x2="597.60" y2="425.00" stroke="#333" stroke-width="1.0"/>
<line x1="630.10" y1="413.80" x2="630.10" y2="418.40" stroke="#8a8a8a" stroke-width="1.0"/>
<line x1="628.11" y1="414.95" x2="632.09" y2="417.25" stroke="#8a8a8a" stroke-width="1.0"/>
<line x1="628.11" y1="417.25" x2="632.09" y2="414.95" stroke="#8a8a8a" stroke-width="1.0"/>
<line x1="635.90" y1="413.80" x2="635.90" y2="418.40" stroke="#8a8a8a" stroke-width="1.0"/>
<line x1="633.91" y1="414.95" x2="637.89" y2="417.25" stroke="#8a8a8a" stroke-width="1.0"/>
<line x1="633.91" y1="417.25" x2="637.89" y2="414.95" stroke="#8a8a8a" stroke-width="1.0"/>
<line x1="627.60" y1="422.70" x2="633.00" y2="422.70" stroke="#333" stroke-width="1.0"/>
<line x1="630.30" y1="420.20" x2="630.30" y2="425.20" stroke="#333" stroke-width="1.0"/>
<line x1="634.00" y1="422.70" x2="639.40" y2="422.70" stroke="#333" stroke-width="1.0"/>
<line x1="636.70" y1="420.20" x2="636.70" y2="425.20" stroke="#333" stroke-width="1.0"/>
<text x="613.90" y="411.40" font-size="10.5" text-anchor="middle" fill="#231f20" textLength="11.80" lengthAdjust="spacingAndGlyphs">n.s</text>
<line x1="329.00" y1="488.30" x2="649.80" y2="488.30" stroke="#444" stroke-width="1.4"/>
<line x1="329.00" y1="505.70" x2="649.80" y2="505.70" stroke="#444" stroke-width="1.4"/>
<line x1="329.00" y1="522.80" x2="649.80" y2="522.80" stroke="#444" stroke-width="1.4"/>
<line x1="329.00" y1="539.90" x2="649.80" y2="539.90" stroke="#444" stroke-width="1.4"/>
<line x1="329.00" y1="487.60" x2="329.00" y2="540.60" stroke="#444" stroke-width="1.4"/>
<line x1="649.80" y1="487.60" x2="649.80" y2="540.60" stroke="#444" stroke-width="1.4"/>
<line x1="417.80" y1="488.30" x2="417.80" y2="539.90" stroke="#444" stroke-width="1.4"/>
<line x1="456.30" y1="488.30" x2="456.30" y2="539.90" stroke="#444" stroke-width="1.4"/>
<line x1="495.80" y1="488.30" x2="495.80" y2="505.70" stroke="#444" stroke-width="1.4"/>
<line x1="534.30" y1="488.30" x2="534.30" y2="505.70" stroke="#444" stroke-width="1.4"/>
<line x1="573.30" y1="488.30" x2="573.30" y2="505.70" stroke="#444" stroke-width="1.4"/>
<line x1="612.00" y1="488.30" x2="612.00" y2="505.70" stroke="#444" stroke-width="1.4"/>
<text x="329.20" y="500.60" font-size="11" text-anchor="start" fill="#231f20" textLength="88.00" lengthAdjust="spacingAndGlyphs">Conc. of compound</text>
<text x="437.20" y="500.60" font-size="11" text-anchor="middle" fill="#231f20">-</text>
<text x="477.40" y="500.60" font-size="11" text-anchor="middle" fill="#231f20">-</text>
<text x="496.50" y="500.60" font-size="10.5" text-anchor="start" fill="#231f20" textLength="37.00" lengthAdjust="spacingAndGlyphs">0.25 μM</text>
<text x="554.60" y="500.60" font-size="10.5" text-anchor="middle" fill="#231f20" textLength="23.20" lengthAdjust="spacingAndGlyphs">1 μM</text>
<text x="594.80" y="500.60" font-size="10.5" text-anchor="middle" fill="#231f20" textLength="23.20" lengthAdjust="spacingAndGlyphs">4 μM</text>
<text x="634.40" y="500.60" font-size="10.5" text-anchor="middle" fill="#231f20" textLength="27.90" lengthAdjust="spacingAndGlyphs">16 μM</text>
<text x="377.50" y="517.70" font-size="11" text-anchor="middle" fill="#231f20" textLength="50.30" lengthAdjust="spacingAndGlyphs">Compound</text>
<text x="437.20" y="517.70" font-size="11" text-anchor="middle" fill="#231f20">-</text>
<text x="559.50" y="517.70" font-size="10.5" text-anchor="middle" fill="#231f20" textLength="32.00" lengthAdjust="spacingAndGlyphs">ALK5 i</text>
<text x="375.60" y="534.80" font-size="11" text-anchor="middle" fill="#231f20" textLength="37.70" lengthAdjust="spacingAndGlyphs">Medium</text>
<text x="439.50" y="534.80" font-size="11" text-anchor="middle" fill="#231f20" textLength="16.90" lengthAdjust="spacingAndGlyphs">CM</text>
<text x="558.90" y="534.80" font-size="11" text-anchor="middle" fill="#231f20" textLength="51.80" lengthAdjust="spacingAndGlyphs">SC medium</text>
<text x="488.70" y="557.40" font-size="11" text-anchor="middle" fill="#231f20" textLength="12.40" lengthAdjust="spacingAndGlyphs">(d)</text>
</svg>
</body></html>
